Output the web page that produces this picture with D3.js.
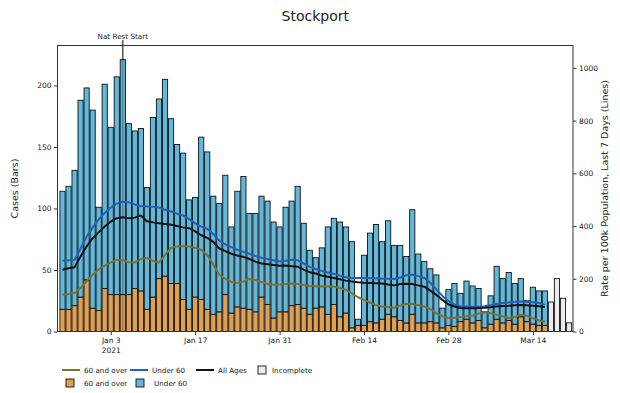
<!DOCTYPE html>
<html><head><meta charset="utf-8">
<script src="https://cdn.jsdelivr.net/npm/d3@7"></script>
<style>body{margin:0;background:#fff} text{font-family:"DejaVu Sans",sans-serif;fill:#222}</style>
</head><body><svg id="c" width="620" height="393"></svg>
<script>
// ---- data ----
const startDate = "2020-12-26";
const over60Cases = [18,18,21,28,42,19,17,35,30,30, 30,30,35,33,18,28,43,45,39,39, 26,18,28,26,18,14,16,30,15,20,
  19,18,16,28,22,11,16,16,21,22, 19,14,19,20,14,22,12,15,3,5, 5,8,7,10,14,12,9,7,14,7, 7,8,7,3,5,4,8,10,7,9, 3,6,10,7,9,6,12,8,6,5,5];
const under60Cases = [96,100,110,160,156,161,84,166,136,177, 191,139,128,132,99,146,146,160,134,113, 119,89,81,132,128,96,88,97,70,94,
  107,78,80,82,84,78,69,85,85,96, 69,52,41,48,71,70,77,70,70,5, 57,72,80,63,76,58,61,54,85,56, 50,43,39,16,29,35,23,31,30,26, 13,23,43,36,39,33,31,17,30,28,28];
const incompleteCases = [24,43,27,7];
const rateAll = [234,240,244,285,323,354,376,398,417,430, 433,430,432,440,418,414,411,408,405,400, 395,392,380,365,355,340,315,305,295,288,
  283,275,265,258,255,252,249,250,248,246, 235,225,220,212,208,203,198,193,190,187, 185,184,183,182,178,175,180,181,180,175,
  170,155,139,120,103,95,89,88,88,89, 90,92,95,97,98,100,101,100,98,96,93];
const rateUnder60 = [268,270,272,315,360,395,425,450,470,485, 492,490,482,476,474,473,470,462,455,447, 440,427,410,398,390,370,345,330,320,310,
  302,295,286,280,275,270,266,268,272,270, 258,245,237,230,224,219,212,206,203,203, 203,203,202,200,200,199,205,213,215,210,
  203,185,160,135,115,103,96,95,94,94, 96,100,104,108,110,113,114,113,111,108,101];
const rateOver60 = [139,142,146,165,190,215,235,250,262,272, 270,263,262,275,279,268,262,290,318,323, 323,322,318,310,290,255,215,200,188,184,
  190,199,195,188,180,177,178,180,182,180, 176,173,172,171,171,170,165,158,145,130, 120,110,100,95,93,90,98,104,105,100,
  95,85,70,58,51,52,55,58,60,68, 72,70,63,58,51,55,63,60,50,42,38];
const xTickDates = ["2021-01-03","2021-01-17","2021-01-31","2021-02-14","2021-02-28","2021-03-14"];
const leftTicks = [0,50,100,150,200];
const rightTicks = [0,200,400,600,800,1000];
const markerDate = "2021-01-05", markerLabel = "Nat Rest Start";

// ---- setup ----
const svg = d3.select("#c");
const m = {l:57.5, r:573, t:45.5, b:331.5};
const parse = d3.utcParse("%Y-%m-%d");
const DAY = 864e5;
const d0 = parse(startDate);
const nComplete = over60Cases.length;
const n = nComplete + incompleteCases.length;
const dates = d3.range(n).map(i => new Date(+d0 + i*DAY));
const x = d3.scaleUtc().domain([new Date(+d0 - 0.83*DAY), new Date(+dates[n-1] + 0.66*DAY)]).range([m.l, m.r]);
const yL = d3.scaleLinear().domain([0,232.5]).range([m.b, m.t]);
const yR = d3.scaleLinear().domain([0,1085]).range([m.b, m.t]);
const pitch = x(dates[1]) - x(dates[0]);
const bw = pitch*0.86;

const cOrange = "#e0a052", cBlue = "#62b8da", cIncomp = "#ececec";
const lOver = "#7a7232", lUnder = "#1f62b6", lAll = "#111";

const g = svg.append("g");
g.append("line").attr("x1", x(parse(markerDate))).attr("x2", x(parse(markerDate)))
  .attr("y1", 40).attr("y2", m.b).attr("stroke", "#333").attr("stroke-width", 1);

// bars
const complete = d3.range(nComplete);
g.selectAll("rect.o").data(complete).join("rect")
  .attr("x", i => x(dates[i]) - bw/2).attr("width", bw)
  .attr("y", i => yL(over60Cases[i])).attr("height", i => yL(0) - yL(over60Cases[i]))
  .attr("fill", cOrange).attr("stroke", "#111").attr("stroke-width", 0.9);
g.selectAll("rect.u").data(complete).join("rect")
  .attr("x", i => x(dates[i]) - bw/2).attr("width", bw)
  .attr("y", i => yL(over60Cases[i] + under60Cases[i]))
  .attr("height", i => yL(over60Cases[i]) - yL(over60Cases[i] + under60Cases[i]))
  .attr("fill", cBlue).attr("stroke", "#111").attr("stroke-width", 0.9);
g.selectAll("rect.inc").data(incompleteCases).join("rect")
  .attr("x", (d,j) => x(dates[nComplete + j]) - bw/2).attr("width", bw)
  .attr("y", d => yL(d)).attr("height", d => yL(0) - yL(d))
  .attr("fill", cIncomp).attr("stroke", "#111").attr("stroke-width", 0.9);

g.append("line").attr("x1", x(parse(markerDate))).attr("x2", x(parse(markerDate)))
  .attr("y1", 40).attr("y2", m.b).attr("stroke", "#222").attr("stroke-width", 1).attr("opacity", 0.45);

// lines
const line = d3.line().x((d,i) => x(dates[i])).y(d => yR(d));
[[rateOver60, lOver], [rateUnder60, lUnder], [rateAll, lAll]].forEach(([arr, col]) => {
  g.append("path").datum(arr).attr("d", line).attr("fill", "none")
    .attr("stroke", col).attr("stroke-width", 2).attr("stroke-linejoin", "round");
});

// frame
svg.append("rect").attr("x", m.l).attr("y", m.t).attr("width", m.r - m.l).attr("height", m.b - m.t)
  .attr("fill", "none").attr("stroke", "#333").attr("stroke-width", 1);

// axes
const fs = "7.5px";
const axL = svg.append("g").attr("transform", `translate(${m.l},0)`)
  .call(d3.axisLeft(yL).tickValues(leftTicks).tickSize(3.5).tickPadding(2.5).tickFormat(d3.format("d")));
const axR = svg.append("g").attr("transform", `translate(${m.r},0)`)
  .call(d3.axisRight(yR).tickValues(rightTicks).tickSize(3.5).tickPadding(2.5).tickFormat(d3.format("d")));
const axB = svg.append("g").attr("transform", `translate(0,${m.b})`)
  .call(d3.axisBottom(x).tickValues(xTickDates.map(parse)).tickSize(3.5).tickPadding(3)
    .tickFormat(d3.utcFormat("%b %-d")));
[axL, axR, axB].forEach(a => {
  a.select(".domain").remove();
  a.selectAll("text").style("font-size", fs).attr("fill", "#222").style("font-family", "DejaVu Sans");
  a.selectAll("line").attr("stroke", "#333");
});
axB.selectAll(".tick").filter((d,i) => i === 0).select("text")
  .append("tspan").attr("x", 0).attr("dy", "1.25em").text("2021");

// titles
svg.append("text").attr("x", (m.l + m.r)/2).attr("y", 21).attr("text-anchor", "middle")
  .style("font-size", "14px").text("Stockport");
svg.append("text").attr("x", x(parse(markerDate))).attr("y", 39).attr("text-anchor", "middle")
  .style("font-size", "7.2px").text(markerLabel);
svg.append("text").attr("transform", `translate(18,${(m.t+m.b)/2}) rotate(-90)`).attr("text-anchor", "middle")
  .style("font-size", "9.5px").text("Cases (Bars)");
svg.append("text").attr("transform", `translate(608,${(m.t+m.b)/2}) rotate(-90)`).attr("text-anchor", "middle")
  .style("font-size", "9.5px").text("Rate per 100k Population, Last 7 Days (Lines)");

// legend
const lg = svg.append("g").style("font-size", "7.2px");
const row1 = 370, row2 = 383;
const lineItems = [
  {x: 62, col: lOver, label: "60 and over"},
  {x: 130, col: lUnder, label: "Under 60"},
  {x: 196, col: lAll, label: "All Ages"}];
lineItems.forEach(it => {
  lg.append("line").attr("x1", it.x).attr("x2", it.x + 18).attr("y1", row1).attr("y2", row1)
    .attr("stroke", it.col).attr("stroke-width", 2);
  lg.append("text").attr("x", it.x + 22).attr("y", row1 + 2.6).text(it.label);
});
const boxItems = [
  {x: 258, y: row1, col: cIncomp, label: "Incomplete"},
  {x: 66, y: row2, col: cOrange, label: "60 and over"},
  {x: 136, y: row2, col: cBlue, label: "Under 60"}];
boxItems.forEach(it => {
  lg.append("rect").attr("x", it.x).attr("y", it.y - 4).attr("width", 8).attr("height", 8)
    .attr("fill", it.col).attr("stroke", "#111").attr("stroke-width", 0.9);
  lg.append("text").attr("x", it.x + (it.label === "Incomplete" ? 14 : 18)).attr("y", it.y + 2.6).text(it.label);
});
</script></body></html>
